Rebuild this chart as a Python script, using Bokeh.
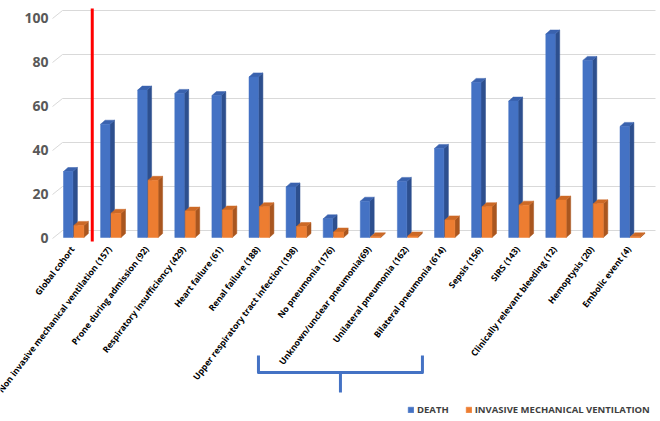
import numpy as np
from bokeh.plotting import figure
from bokeh.models import Legend, LegendItem
from bokeh.core.properties import value
from bokeh.embed import file_html
from bokeh.resources import INLINE

# ---------------- data ----------------
categories = [
    "Global cohort",
    "Non invasive mechanical ventilation (157)",
    "Prone during admission (92)",
    "Respiratory insufficiency (429)",
    "Heart failure (61)",
    "Renal failure (188)",
    "Upper respiratory tract infection (198)",
    "No pneumonia (176)",
    "Unknown/unclear pneumonia(69)",
    "Unilateral pneumonia (162)",
    "Bilateral pneumonia (614)",
    "Sepsis (156)",
    "SIRS (143)",
    "Clinically relevant bleeding (12)",
    "Hemoptysis (20)",
    "Embolic event (4)",
]
death = [30, 51.5, 67, 65.5, 64.5, 73, 23, 8.5, 16.5, 25.5, 40.5, 70.5, 62, 92.5, 80.5, 50.5]
imv = [5.5, 11, 26, 12, 12.5, 14, 5, 2.5, 0.3, 0.7, 8, 14, 14.7, 17, 15.3, 0.3]
y_ticks = [0, 20, 40, 60, 80, 100]
series_names = ["DEATH", "INVASIVE MECHANICAL VENTILATION"]

# ---------------- layout constants ----------------
W, H = 656, 416
PX_X = 37.1          # pixels per category
PX_Y = 2.2           # pixels per percentage point
X0 = 73.2            # figure px of category 0 centre
Y0 = 237             # figure px of value 0 (front plane)

p = figure(width=W, height=H, output_backend="svg", toolbar_location=None,
           x_range=(-X0 / PX_X, (W - X0) / PX_X),
           y_range=(-(H - Y0) / PX_Y, Y0 / PX_Y),
           x_axis_location=None, y_axis_location=None, min_border=0)
p.xgrid.visible = False
p.ygrid.visible = False
p.outline_line_color = None
p.background_fill_color = "white"

def px(v):
    return v / PX_X

def py(v):
    return v / PX_Y

# ---------------- back-wall grid ----------------
gdx, gdy = px(10), py(8)
gx_left = px(52 - X0)
gx_right = px(655 - X0)
n_t = len(y_ticks)
p.segment(x0=[gx_left] * n_t, y0=[t - py(1) for t in y_ticks],
          x1=[gx_left + gdx] * n_t, y1=[t + gdy - py(1) for t in y_ticks],
          line_color="#D9D9D9", line_width=1)
p.segment(x0=[gx_left + gdx] * n_t, y0=[t + gdy - py(1) for t in y_ticks],
          x1=[gx_right] * n_t, y1=[t + gdy - py(1) for t in y_ticks],
          line_color="#D9D9D9", line_width=1)

# y tick labels
p.text(x=[px(48 - X0)] * n_t, y=y_ticks, text=[str(t) for t in y_ticks],
       text_align="right", text_baseline="middle", text_font=value("Open Sans"),
       text_font_style="bold", text_font_size="14px", text_color="#595959")

# ---------------- 3D bars ----------------
dx, dy = px(4.5), py(4)
idx = np.arange(len(categories))

def bars(vals, off_l, off_r, front, side, top):
    left = idx + px(off_l)
    right = idx + px(off_r)
    vals = np.asarray(vals, dtype=float)
    side_xs = [[r, r + dx, r + dx, r] for r in right]
    side_ys = [[0, dy, v + dy, v] for v in vals]
    top_xs = [[l, r, r + dx, l + dx] for l, r in zip(left, right)]
    top_ys = [[v, v, v + dy, v + dy] for v in vals]
    p.patches(xs=side_xs, ys=side_ys, fill_color=side, line_color=side, line_width=0.5)
    p.patches(xs=top_xs, ys=top_ys, fill_color=top, line_color=top, line_width=0.5)
    return p.quad(left=left, right=right, bottom=0, top=vals,
                  fill_color=front, line_color=front, line_width=0.5)

r_death = bars(death, -10.2, -0.8, "#4472C4", "#2D4F8E", "#3A62AE")
r_imv = bars(imv, 0.2, 10.2, "#ED7D31", "#A9561F", "#CC6926")

# red separator between global cohort and subgroups
p.segment(x0=[0.5], y0=[py(237 - 241)], x1=[0.5], y1=[py(229)],
          line_color="#FF0000", line_width=3)

# ---------------- category labels ----------------
p.text(x=idx - px(1), y=[py(-10)] * len(categories), text=categories,
       angle=0.92, text_align="right", text_baseline="middle",
       text_font=value("Open Sans"), text_font_style="bold",
       text_font_size="8.7px", text_color="#000000")

# ---------------- brace under the pneumonia group ----------------
b_left, b_right, b_mid = 4.98, 9.40, 7.19
b_top, b_h, b_bot = py(237 - 355), py(237 - 372), py(237 - 392)
p.line(x=[b_left, b_left, b_right, b_right], y=[b_top, b_h, b_h, b_top],
       line_color="#4472C4", line_width=3, line_join="round")
p.line(x=[b_mid, b_mid], y=[b_h, b_bot], line_color="#4472C4", line_width=3)

# ---------------- legend ----------------
legend = Legend(items=[LegendItem(label=series_names[0], renderers=[r_death]),
                       LegendItem(label=series_names[1], renderers=[r_imv])],
                orientation="horizontal", location=(407, 0),
                glyph_width=7, glyph_height=7, label_standoff=3, spacing=16,
                padding=0, margin=0, border_line_alpha=0, background_fill_alpha=0,
                label_text_font="Open Sans", label_text_font_style="bold",
                label_text_font_size="9.5px", label_text_color="#404040",
                label_height=12)
p.add_layout(legend)

open("out.html", "w").write(file_html(p, INLINE))
